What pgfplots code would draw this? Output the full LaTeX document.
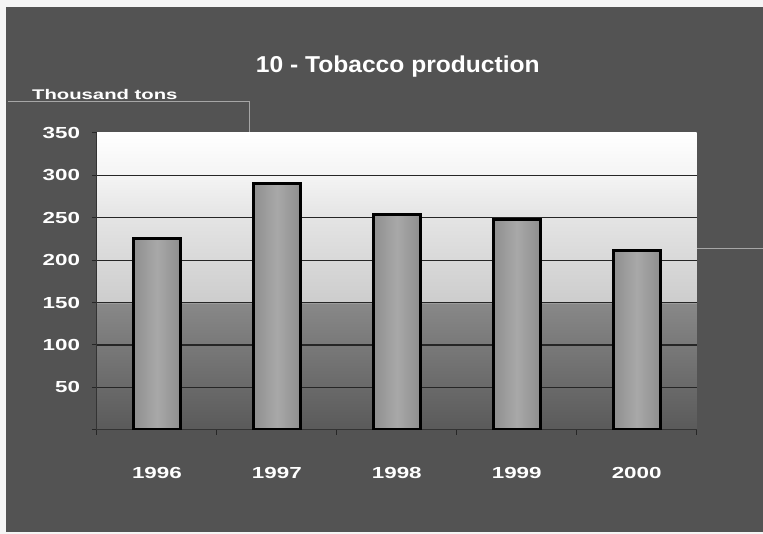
\documentclass[border=0pt]{standalone}
\usepackage{pgfplots}
\pgfplotsset{compat=1.18}
\usepackage{fontspec}
\setmainfont{Liberation Sans}
\definecolor{bg}{HTML}{535353}
\definecolor{c0}{HTML}{5A5A5A}
\definecolor{c1}{HTML}{888888}
\definecolor{c2}{HTML}{CDCDCD}
\definecolor{c3}{HTML}{E4E4E4}
\definecolor{c4}{HTML}{F4F4F4}
\pgfdeclareverticalshading{plotbg}{100bp}{
  color(0bp)=(c0); color(25bp)=(c0); color(46.3bp)=(c1); color(46.5bp)=(c2);
  color(60.7bp)=(c3); color(67.9bp)=(c4); color(75bp)=(white); color(100bp)=(white)}
\pgfplotsset{tbar/.style={draw=black, line width=3pt, shading=axis, left color=gray!88, right color=gray!88, middle color=gray!68, bar shift=0pt}}
\begin{document}
\begin{tikzpicture}[x=1pt,y=1pt]
\fill[white!92!gray] (0,0) rectangle (763,534);
\fill[bg] (6,2) rectangle (763,527);
\draw[gray!70,line width=0.8pt] (8,433) -- (250,433) -- (250,400);
\draw[gray!70,line width=0.8pt] (697,285) -- (763,285);
\node[white,font=\bfseries\fontsize{23}{26}\selectfont,xscale=1.07] at (398,467) {10 - Tobacco production};
\node[white,font=\bfseries\fontsize{14}{16}\selectfont,anchor=base west,xscale=1.45] at (27,434) {Thousand tons};
\begin{axis}[
  at={(97pt,104pt)}, anchor=south west,
  scale only axis, width=600pt, height=297pt,
  xmin=-0.5, xmax=4.5, ymin=0, ymax=350,
  axis background/.style={shading=plotbg},
  axis x line*=bottom, axis y line*=left,
  axis line style={black!80, line width=1pt},
  xtick={-0.5,0.5,...,4.5}, xticklabels={},
  extra x ticks={0,1,2,3,4},
  extra x tick labels={1996,1997,1998,1999,2000},
  extra x tick style={major tick length=0pt, xticklabel style={yshift=-34pt}},
  ytick={0,50,...,300}, yticklabels={,50,100,150,200,250,300},
  extra y ticks={350}, extra y tick labels={350},
  extra y tick style={grid=none},
  tick align=outside, major tick length=5pt,
  tick style={black!85, line width=1pt},
  ymajorgrids, grid style={black!85, line width=1.1pt},
  ticklabel style={white, font=\bfseries\fontsize{16}{18}\selectfont, xscale=1.4},
  yticklabel style={xshift=-5pt},
  /pgf/number format/assume math mode=true,
  ybar, bar width=47pt,
]
\addplot[tbar] coordinates {(0,226)};
\addplot[tbar] coordinates {(1,290)};
\addplot[tbar] coordinates {(2,254)};
\addplot[tbar] coordinates {(3,248)};
\addplot[tbar] coordinates {(4,211)};
\end{axis}
\end{tikzpicture}
\end{document}
